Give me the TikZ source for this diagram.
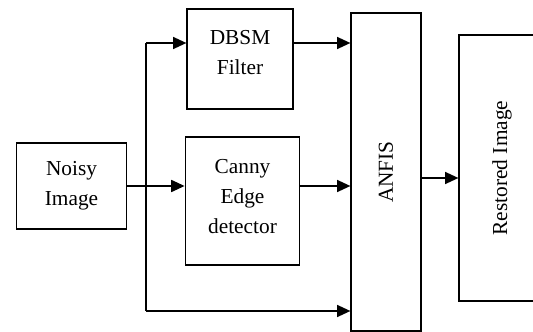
\documentclass[tikz,border=0pt]{standalone}
\usepackage{fontspec}
\setmainfont{Liberation Serif}
\usepackage{tikz}
\usetikzlibrary{arrows.meta, positioning, calc}

\tikzset{
  block/.style={draw, line width=0.9pt, align=center, inner sep=0pt},
  txt/.style={align=center, font=\fontsize{16}{22.5}\selectfont},
  flow/.style={line width=1.2pt, -{Triangle[length=10pt,width=9pt]}},
  wire/.style={line width=1.2pt}
}

\begin{document}
\begin{tikzpicture}[x=0.75pt, y=-0.75pt]
  \useasboundingbox (0,0) rectangle (533,332);
  \clip (0,0) rectangle (533,332);

  % blocks
  \node[block, txt, minimum width=83pt, minimum height=64.5pt] (noisy) at (71.5,186) {Noisy\\Image};
  \node[block, minimum width=79.5pt, minimum height=75pt] (dbsm) at (240,59) {};
  \node[txt] at ([yshift=4.5pt]dbsm.center) {DBSM\\Filter};
  \node[block, minimum width=86pt, minimum height=96pt] (canny) at (242.5,201) {};
  \node[txt] at ([yshift=3pt]canny.center) {Canny\\Edge\\detector};
  \node[block, minimum width=52.5pt, minimum height=238.5pt] (anfis) at (386,172) {};
  \node[txt, rotate=90] at (anfis) {ANFIS};
  \node[block, minimum width=64.5pt, minimum height=199.5pt] (restored) at (502,168) {};
  \node[txt, rotate=90] at (restored) {Restored Image};

  % branch points
  \coordinate (split) at (146,186);
  \coordinate (top) at (146,43);
  \coordinate (bot) at (146,311);

  % connectors
  \draw[wire] (noisy.east) -- (split);
  \draw[wire] (top) -- (bot);
  \draw[flow] (split) -- (split -| canny.west);
  \draw[flow] (top) -- (top -| dbsm.west);
  \draw[flow] (bot) -- (bot -| anfis.west);
  \draw[flow] (dbsm.east |- top) -- (top -| anfis.west);
  \draw[flow] (canny.east |- split) -- (split -| anfis.west);
  \draw[flow] ([yshift=-4.5pt]anfis.east) -- ([yshift=-4.5pt]anfis.east -| restored.west);
\end{tikzpicture}
\end{document}
